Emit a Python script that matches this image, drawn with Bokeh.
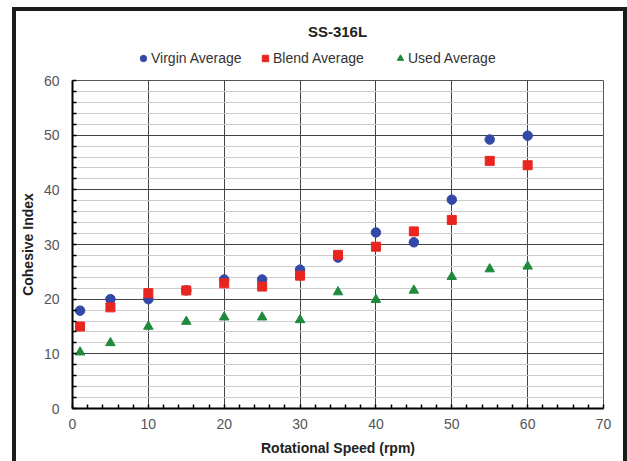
from bokeh.plotting import figure
from bokeh.models import (Range1d, SingleIntervalTicker, Legend, LegendItem, Label)
from bokeh.layouts import column
from bokeh.embed import file_html
from bokeh.resources import INLINE

# Rotational speed (rpm) and averaged cohesive index per powder condition
speed = [1, 5, 10, 15, 20, 25, 30, 35, 40, 45, 50, 55, 60]
virgin_avg = [17.9, 20.0, 20.0, 21.6, 23.6, 23.6, 25.4, 27.6, 32.2, 30.4, 38.2, 49.2, 49.9]
blend_avg = [15.0, 18.5, 21.1, 21.6, 22.9, 22.3, 24.3, 28.1, 29.6, 32.4, 34.5, 45.3, 44.5]
used_avg = [10.3, 12.0, 15.0, 15.9, 16.7, 16.7, 16.2, 21.3, 19.9, 21.6, 24.1, 25.5, 26.0]

series_names = ["Virgin Average", "Blend Average", "Used Average"]
x_ticks = [0, 10, 20, 30, 40, 50, 60, 70]
y_ticks = [0, 10, 20, 30, 40, 50, 60]

FONT = "Liberation Sans"
BLUE = "#3349a8"
RED = "#e8261f"
GREEN = "#1f8a3c"
markers = ["circle", "square", "triangle"]
colors = [BLUE, RED, GREEN]

# ---- header: chart title and legend row ----
# (its frame is aligned with the main plot's frame by the column layout)
head = figure(width=607, height=60, output_backend="svg", toolbar_location=None,
              x_range=Range1d(0, 1), y_range=Range1d(0, 1),
              x_axis_type=None, y_axis_type=None,
              min_border=0, outline_line_color=None,
              background_fill_color="white", border_fill_color="white")
head.grid.visible = False

head.add_layout(Label(x=265, y=40, x_units="screen", y_units="screen",
                      text="SS-316L", text_align="center", text_baseline="middle",
                      text_font=FONT, text_font_size="15px", text_font_style="bold",
                      text_color="#222222"))

legend_left = [63, 185, 320]
for name, mk, col, left in zip(series_names, markers, colors, legend_left):
    # off-range point: only the legend swatch of this renderer is seen
    swatch = head.scatter([5], [5], marker=mk, fill_color=col, line_color=col)
    head.add_layout(Legend(items=[LegendItem(label=name, renderers=[swatch])],
                           location=(left, 4), orientation="horizontal",
                           border_line_color=None, background_fill_alpha=0,
                           label_text_font=FONT, label_text_font_size="14px",
                           label_text_color="#333333", label_standoff=0,
                           glyph_width=16, glyph_height=18,
                           padding=0, margin=0, spacing=0))

# ---- main scatter plot ----
p = figure(width=607, height=390, output_backend="svg", toolbar_location=None,
           x_range=Range1d(x_ticks[0], x_ticks[-1]),
           y_range=Range1d(y_ticks[0], y_ticks[-1]),
           min_border_left=56, min_border_right=20,
           min_border_top=9, min_border_bottom=53,
           background_fill_color="white", border_fill_color="white")

p.outline_line_color = "#555555"
p.outline_line_width = 1

for ax in (p.xaxis[0], p.yaxis[0]):
    ax.ticker = SingleIntervalTicker(interval=10, num_minor_ticks=5)
    ax.axis_line_color = "black"
    ax.axis_line_width = 2
    ax.major_tick_in = 0
    ax.major_tick_out = 0
    ax.minor_tick_in = 4
    ax.minor_tick_out = 0
    ax.minor_tick_line_color = "black"
    ax.minor_tick_line_width = 1.5
    ax.major_label_text_font = FONT
    ax.major_label_text_font_size = "14px"
    ax.major_label_text_color = "#555555"
    ax.axis_label_text_font = FONT
    ax.axis_label_text_font_size = "14px"
    ax.axis_label_text_font_style = "bold"
    ax.axis_label_text_color = "#222222"

p.xaxis.axis_label = "Rotational Speed (rpm)"
p.yaxis.axis_label = "Cohesive Index"
p.xaxis.major_label_standoff = 10
p.yaxis.major_label_standoff = 13
p.xaxis.axis_label_standoff = 8
p.yaxis.axis_label_standoff = 5

p.xgrid.ticker = SingleIntervalTicker(interval=10)
p.xgrid.grid_line_color = "#444444"
p.xgrid.grid_line_width = 1
p.ygrid.ticker = SingleIntervalTicker(interval=10, num_minor_ticks=5)
p.ygrid.grid_line_color = "#444444"
p.ygrid.grid_line_width = 1
p.ygrid.minor_grid_line_color = "#cccccc"
p.ygrid.minor_grid_line_width = 1

p.scatter(speed, virgin_avg, marker="circle", size=9.5,
          fill_color=BLUE, line_color=BLUE)
p.scatter(speed, blend_avg, marker="square", size=9,
          fill_color=RED, line_color=RED)
p.scatter(speed, used_avg, marker="triangle", size=9.5,
          fill_color=GREEN, line_color=GREEN)

root = column(head, p, spacing=0,
              styles={"margin-left": "12px", "margin-top": "7px",
                      "border-left": "4px solid #1c1c1c",
                      "border-top": "4px solid #1c1c1c",
                      "border-right": "4px solid #1c1c1c"})

open("out.html", "w").write(file_html(root, INLINE))
